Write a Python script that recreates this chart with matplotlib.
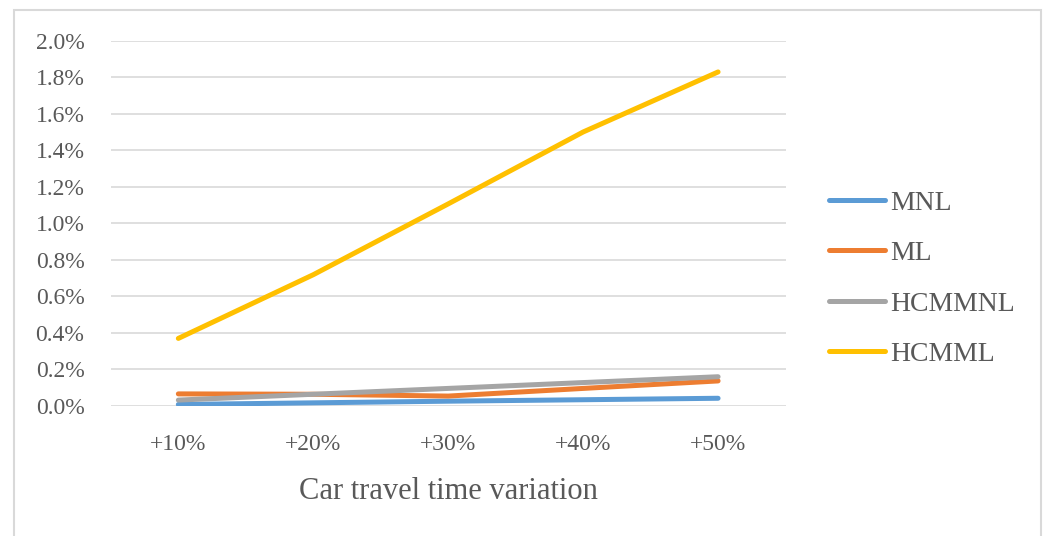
import matplotlib
matplotlib.use("Agg")
import matplotlib.pyplot as plt
from matplotlib.patches import Rectangle
from matplotlib.ticker import FuncFormatter

# sensitivity of share to car travel time (percent)
variation = ["+10%", "+20%", "+30%", "+40%", "+50%"]
mnl = [0.007, 0.016, 0.025, 0.033, 0.041]
ml = [0.065, 0.063, 0.053, 0.095, 0.136]
hcmmnl = [0.031, 0.063, 0.095, 0.127, 0.159]
hcmml = [0.369, 0.718, 1.106, 1.500, 1.829]

series = [("MNL", mnl, "#5B9BD5"),
          ("ML", ml, "#ED7D31"),
          ("HCMMNL", hcmmnl, "#A5A5A5"),
          ("HCMML", hcmml, "#FFC000")]

plt.rcParams["font.family"] = ["Liberation Serif", "DejaVu Serif"]
txt = "#595959"

fig = plt.figure(figsize=(10.46, 5.36), dpi=100)
ax = fig.add_axes([0.106, 0.243, 0.645, 0.681])

# light chart-area frame
fig.patches.append(Rectangle((14 / 1046, -0.05), (1041 - 14) / 1046, 1.05 - 10 / 536,
                             transform=fig.transFigure, fill=False,
                             edgecolor="#D9D9D9", linewidth=1.5))

x = range(len(variation))
for name, vals, col in series:
    ax.plot(x, vals, color=col, linewidth=3.6, solid_capstyle="round",
            solid_joinstyle="round", label=name)

ax.set_xlim(-0.5, len(variation) - 0.5)
ax.set_ylim(0, 2.0)
ax.set_yticks([i * 0.2 for i in range(11)])
ax.yaxis.set_major_formatter(FuncFormatter(lambda v, p: f"{v:.1f}%"))
ax.set_xticks(list(x))
ax.set_xticklabels(variation)
ax.grid(axis="y", color="#D9D9D9", linewidth=1.2)
ax.set_axisbelow(True)
for s in ax.spines.values():
    s.set_visible(False)
ax.tick_params(length=0, labelsize=17, colors=txt)
ax.tick_params(axis="x", pad=20)
ax.tick_params(axis="y", pad=19)
ax.set_xlabel("Car travel time variation", fontsize=22, color=txt, labelpad=16)

leg = fig.legend(loc="center left", bbox_to_anchor=(0.782, 0.48), frameon=False,
                 fontsize=20, handlelength=2.0, handletextpad=0.2,
                 labelspacing=0.9, borderaxespad=0)
for t in leg.get_texts():
    t.set_color(txt)

fig.savefig("out.png", dpi=100)
